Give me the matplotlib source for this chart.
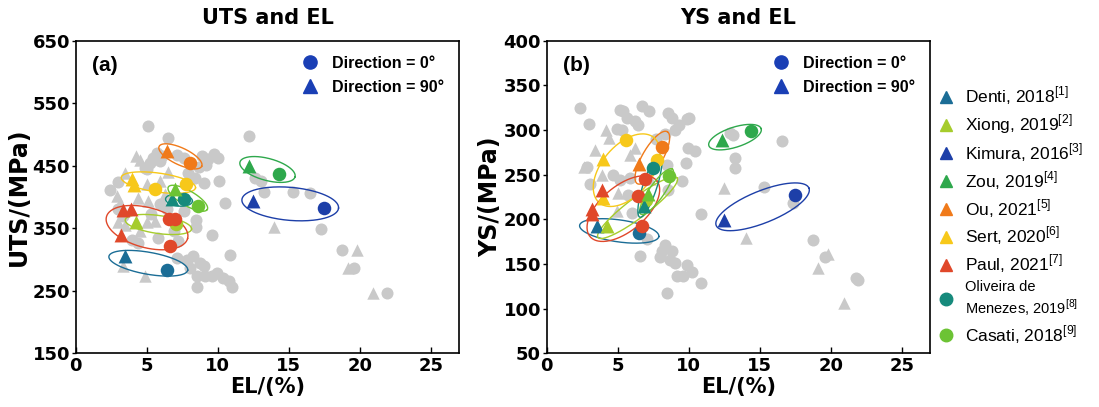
import numpy as np
import matplotlib
matplotlib.use("Agg")
import matplotlib.pyplot as plt
from matplotlib.lines import Line2D

plt.rcParams['font.family'] = ['DejaVu Sans']

# studies, in legend order
studies = ['Denti, 2018', 'Xiong, 2019', 'Kimura, 2016', 'Zou, 2019', 'Ou, 2021',
           'Sert, 2020', 'Paul, 2021', 'Oliveira de\nMenezes, 2019', 'Casati, 2018']
refs = ['1', '2', '3', '4', '5', '6', '7', '8', '9']
legend_marker = ['^', '^', '^', '^', '^', '^', '^', 'o', 'o']
colors = ['#1b6d96', '#a6cc2c', '#1d3fa8', '#2ea84c', '#f07a1a',
          '#f7c81a', '#e0482a', '#168a7c', '#6cc334']
dir_blue = '#1a3fb5'
gray = '#c9c9c9'

# ---- panel (a): UTS vs EL ----
# direction = 0 deg (circles)
a_el_0 = [[6.44], [7.07], [17.45], [14.3], [8.06], [5.55, 7.78], [6.6, 6.96, 6.67], [7.61], [8.64]]
a_uts_0 = [[284], [357], [382], [436], [455], [413, 420], [365, 365, 322], [397], [386]]
# direction = 90 deg (triangles)
a_el_90 = [[3.49], [4.26], [12.46], [12.23], [6.42], [3.96, 4.1], [3.33, 3.87, 3.16], [6.77], [6.96]]
a_uts_90 = [[305], [360], [394], [450], [473], [429, 419], [379, 380, 339], [396], [413]]

# other literature data (grey)
a_gray_el = [5.07, 6.48, 12.2, 5.2, 5.45, 5.7, 5.05, 4.85, 5.9, 6.1, 7.16, 7.6,
             8.87, 9.7, 10.05, 9.3, 9.2, 8.7, 2.42, 3.0, 2.95, 3.3,
             9.0, 10.1, 10.5, 7.9, 8.4, 5.3, 5.9, 6.4, 7.6, 8.5, 8.5, 9.58,
             3.94, 4.4, 5.8, 7.2, 6.9, 7.1, 10.87, 7.8, 8.29, 8.76, 9.0, 8.05,
             8.52, 9.1, 9.58, 9.93, 10.4, 10.82, 10.99, 8.52, 13.05, 12.6,
             13.28, 15.27, 16.47, 17.27, 18.72, 19.56, 21.88]
a_gray_uts = [514, 495, 497, 455, 462, 470, 445, 447, 458, 466, 467, 462,
              465, 469, 463, 461, 451, 448, 411, 424, 380, 370,
              423, 426, 391, 438, 430, 373, 388, 380, 378, 363, 352, 339,
              331, 326, 334, 330, 345, 303, 307, 299, 305, 294, 289, 286,
              273, 273, 273, 279, 270, 265, 256, 256, 426, 430,
              408, 408, 407, 348, 315, 287, 246]
a_gray_tri_el = [4.26, 4.5, 3.47, 2.9, 3.12, 4.4, 5.1, 6.3, 5.9, 3.0, 3.5, 5.0,
                 5.6, 4.5, 3.3, 4.88, 13.94, 19.77, 19.14, 20.9, 6.5, 5.0]
a_gray_tri_uts = [465, 459, 438, 401, 390, 398, 393, 404, 425, 360, 355, 360,
                  362, 345, 290, 273, 352, 315, 287, 246, 440, 420]

# ---- panel (b): YS vs EL ----
b_el_0 = [[6.5], [7.0], [17.49], [14.36], [8.1], [5.58, 7.74], [6.92, 6.4, 6.69], [7.51], [8.61]]
b_ys_0 = [[185], [222], [227], [299], [281], [289, 266], [245, 226, 192], [257], [249]]
b_el_90 = [[3.52], [4.22], [12.5], [12.32], [6.5], [3.99, 4.0], [3.87, 3.17, 3.21], [6.87], [7.11]]
b_ys_90 = [[192], [192], [199], [289], [262], [268, 224], [233, 211, 206], [215], [228]]

b_gray_el = [2.35, 3.0, 5.16, 5.4, 5.63, 6.22, 6.46, 6.69, 7.23, 8.57, 8.8, 9.04,
             9.34, 9.86, 10.05, 4.93, 5.28, 2.82, 3.05, 9.98, 10.45, 9.81, 9.5,
             8.45, 8.57, 5.16, 5.87, 5.75, 5.99, 7.7, 8.3, 4.7, 10.9, 7.04, 6.57,
             8.33, 8.8, 7.98, 8.68, 9.04, 9.86, 10.2, 9.15, 9.62, 10.9, 8.45, 8.1,
             12.9, 13.14, 16.55, 13.26, 13.26, 15.3, 17.33, 18.78, 19.6, 21.94, 21.8]
b_gray_ys = [325, 307, 322, 321, 314, 310, 306, 327, 321, 319, 313, 300,
             306, 312, 313, 301, 300, 259, 240, 280, 276, 263, 243,
             261, 233, 244, 246, 227, 207, 290, 295, 250, 206, 178, 159,
             171, 164, 158, 154, 151, 149, 141, 137, 137, 129, 118, 165,
             297, 294, 288, 269, 258, 236, 218, 177, 158, 132, 134]
b_gray_tri_el = [4.18, 4.4, 3.4, 2.6, 5.87, 5.05, 4.93, 6.2, 3.9, 7.3,
                 12.5, 14.0, 19.84, 19.13, 20.93]
b_gray_tri_ys = [300, 291, 278, 259, 272, 229, 209, 280, 250, 245,
                 235, 179, 161, 146, 106]

# ellipses around each study: (study, centre x, centre y, width px, height px, angle deg)
a_ellipses = [(0, 5.11, 294, 80, 22, -10), (1, 5.82, 356, 67, 18, -8),
              (2, 15.1, 389, 97, 33, -5), (3, 13.5, 444, 57, 22, -15),
              (4, 7.37, 465, 47, 17, -25), (5, 5.82, 423, 75, 19, -8),
              (6, 5.02, 351, 84, 40, -15), (7, 7.27, 395, 27, 12, -5),
              (8, 7.89, 398, 45, 15, -30)]
b_ellipses = [(0, 5.11, 187, 80, 22, -8), (1, 6.4, 213, 99, 20, 37),
              (2, 15.2, 214, 100, 32, 22), (3, 13.26, 292, 55, 20, 18),
              (4, 7.44, 269, 60, 20, 60), (5, 5.63, 255, 85, 50, 50),
              (6, 5.4, 212, 87, 45, 40), (7, 7.27, 237, 65, 14, 72),
              (8, 7.74, 231, 55, 15, 55)]


def draw_ellipse(ax, cx, cy, w, h, ang, color):
    t = np.linspace(0, 2 * np.pi, 200)
    a = np.deg2rad(ang)
    dx = w / 2 * np.cos(t) * np.cos(a) - h / 2 * np.sin(t) * np.sin(a)
    dy = w / 2 * np.cos(t) * np.sin(a) + h / 2 * np.sin(t) * np.cos(a)
    c = ax.transData.transform((cx, cy))
    pts = ax.transData.inverted().transform(np.column_stack([c[0] + dx, c[1] + dy]))
    ax.plot(pts[:, 0], pts[:, 1], color=color, lw=1.0, zorder=2.5)


def panel(ax, el0, v0, el90, v90, g_el, g_v, gt_el, gt_v, ells, ylim, yticks,
          title, ylabel, tag):
    ax.set_xlim(0, 27)
    ax.set_ylim(*ylim)
    ax.set_xticks([0, 5, 10, 15, 20, 25])
    ax.set_yticks(yticks)
    ax.scatter(g_el, g_v, s=75, marker='o', color=gray, lw=0, zorder=1)
    ax.scatter(gt_el, gt_v, s=80, marker='^', color=gray, lw=0, zorder=1)
    for i in range(len(studies)):
        ax.scatter(el0[i], v0[i], s=95, marker='o', color=colors[i], lw=0, zorder=3)
        ax.scatter(el90[i], v90[i], s=100, marker='^', color=colors[i], lw=0, zorder=3)
    for k, cx, cy, w, h, ang in ells:
        draw_ellipse(ax, cx, cy, w, h, ang, colors[k])
    ax.set_title(title, fontsize=15, fontweight='bold', pad=12)
    ax.set_xlabel('EL/(%)', fontsize=15, fontweight='bold', labelpad=1)
    ax.set_ylabel(ylabel, fontsize=17, fontweight='bold', labelpad=1)
    ax.tick_params(axis='x', direction='in', length=4, width=1, labelsize=13, pad=3)
    ax.tick_params(axis='y', direction='out', length=3, width=1, labelsize=13, pad=1)
    for lab in ax.get_xticklabels() + ax.get_yticklabels():
        lab.set_fontweight('bold')
    for sp in ax.spines.values():
        sp.set_linewidth(1.2)
    ax.text(0.042, 0.92, tag, transform=ax.transAxes, fontsize=15, fontweight='bold',
            family='Liberation Sans', va='center')
    h0 = Line2D([], [], marker='o', ls='', color=dir_blue, markersize=9.5)
    h90 = Line2D([], [], marker='^', ls='', color=dir_blue, markersize=9.5)
    ax.legend([h0, h90], ['Direction = 0°', 'Direction = 90°'], loc='upper right',
              bbox_to_anchor=(1.0, 1.0), frameon=False, handlelength=1.0,
              handletextpad=0.9, labelspacing=0.55, borderaxespad=0.55,
              prop={'family': 'Liberation Sans', 'weight': 'bold', 'size': 11.5})


fig = plt.figure(figsize=(10.99, 4.07), dpi=100)
ax1 = fig.add_axes([0.0689, 0.132, 0.349, 0.768])
ax2 = fig.add_axes([0.4974, 0.132, 0.349, 0.768])

panel(ax1, a_el_0, a_uts_0, a_el_90, a_uts_90, a_gray_el, a_gray_uts,
      a_gray_tri_el, a_gray_tri_uts, a_ellipses, (150, 650), range(150, 651, 100),
      'UTS and EL', 'UTS/(MPa)', '(a)')
panel(ax2, b_el_0, b_ys_0, b_el_90, b_ys_90, b_gray_el, b_gray_ys,
      b_gray_tri_el, b_gray_tri_ys, b_ellipses, (50, 400), range(50, 401, 50),
      'YS and EL', 'YS/(MPa)', '(b)')

# study legend on the right
handles = [Line2D([], [], marker=legend_marker[i], ls='', color=colors[i], markersize=9)
           for i in range(len(studies))]
labels = [studies[i] + r'$^{\mathregular{[' + refs[i] + ']}}$' for i in range(len(studies))]
leg = fig.legend(handles, labels, loc='upper left', bbox_to_anchor=(0.839, 0.83),
                 frameon=False, handlelength=1.0, handletextpad=0.6, labelspacing=0.3,
                 prop={'family': 'Liberation Sans', 'size': 12.5})
leg.get_texts()[7].set_fontsize(10.5)

fig.savefig('out.png', dpi=100)
